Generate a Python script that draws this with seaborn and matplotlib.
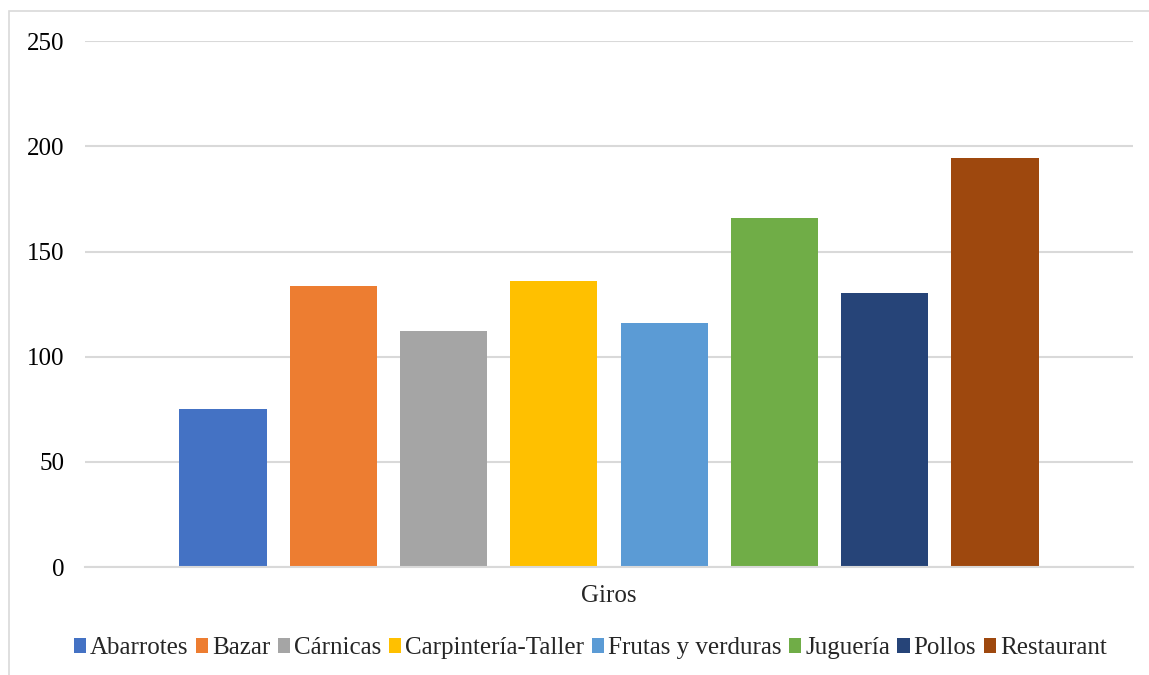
import pandas as pd
import seaborn as sns
import matplotlib.pyplot as plt
from matplotlib.patches import Rectangle

categorias = ['Giros']
giros = ['Abarrotes', 'Bazar', 'Cárnicas', 'Carpintería-Taller',
         'Frutas y verduras', 'Juguería', 'Pollos', 'Restaurant']
valores = [75.2, 133.8, 112.2, 136.2, 116.2, 165.7, 130.4, 194.6]
colores = ['#4472C4', '#ED7D31', '#A5A5A5', '#FFC000',
           '#5B9BD5', '#70AD47', '#264478', '#9E480E']
yticks = [0, 50, 100, 150, 200, 250]

df = pd.DataFrame({'categoria': categorias * len(giros), 'giro': giros, 'valor': valores})

sns.set_style('white')
plt.rcParams['font.family'] = ['Liberation Serif', 'DejaVu Serif']

fig = plt.figure(figsize=(11.49, 6.75), dpi=100)
ax = fig.add_axes([0.074, 0.16, 0.912, 0.779])

sns.barplot(data=df, x='categoria', y='valor', hue='giro', hue_order=giros,
            palette=colores, width=0.842, gap=0.21, saturation=1,
            linewidth=0, legend=True, ax=ax)

ax.set_ylim(0, 250)
ax.set_xlim(-0.5, 0.5)
ax.set_yticks(yticks)
ax.yaxis.grid(True, color='#d9d9d9', linewidth=1.5)
ax.set_axisbelow(True)
for s in ['top', 'right', 'left']:
    ax.spines[s].set_visible(False)
ax.spines['bottom'].set_color('#d9d9d9')
ax.spines['bottom'].set_linewidth(1.5)
ax.tick_params(axis='both', length=0, labelsize=18, colors='black')
ax.tick_params(axis='y', pad=15)
ax.set_xticks([])
ax.set_xlabel('Giros', fontsize=18, labelpad=13)
ax.set_ylabel('')

ax.legend(loc='upper center', bbox_to_anchor=(0.482, -0.115), ncol=8,
          frameon=False, fontsize=18, handlelength=0.5, handleheight=0.5,
          handletextpad=0.15, columnspacing=0.3, borderaxespad=0)

fig.patches.append(Rectangle((9 / 1149, -0.1), 1.2, 1 - 11 / 675 + 0.1,
                             transform=fig.transFigure, fill=False,
                             edgecolor='#d9d9d9', linewidth=1.2))

fig.savefig('out.png', dpi=100)
